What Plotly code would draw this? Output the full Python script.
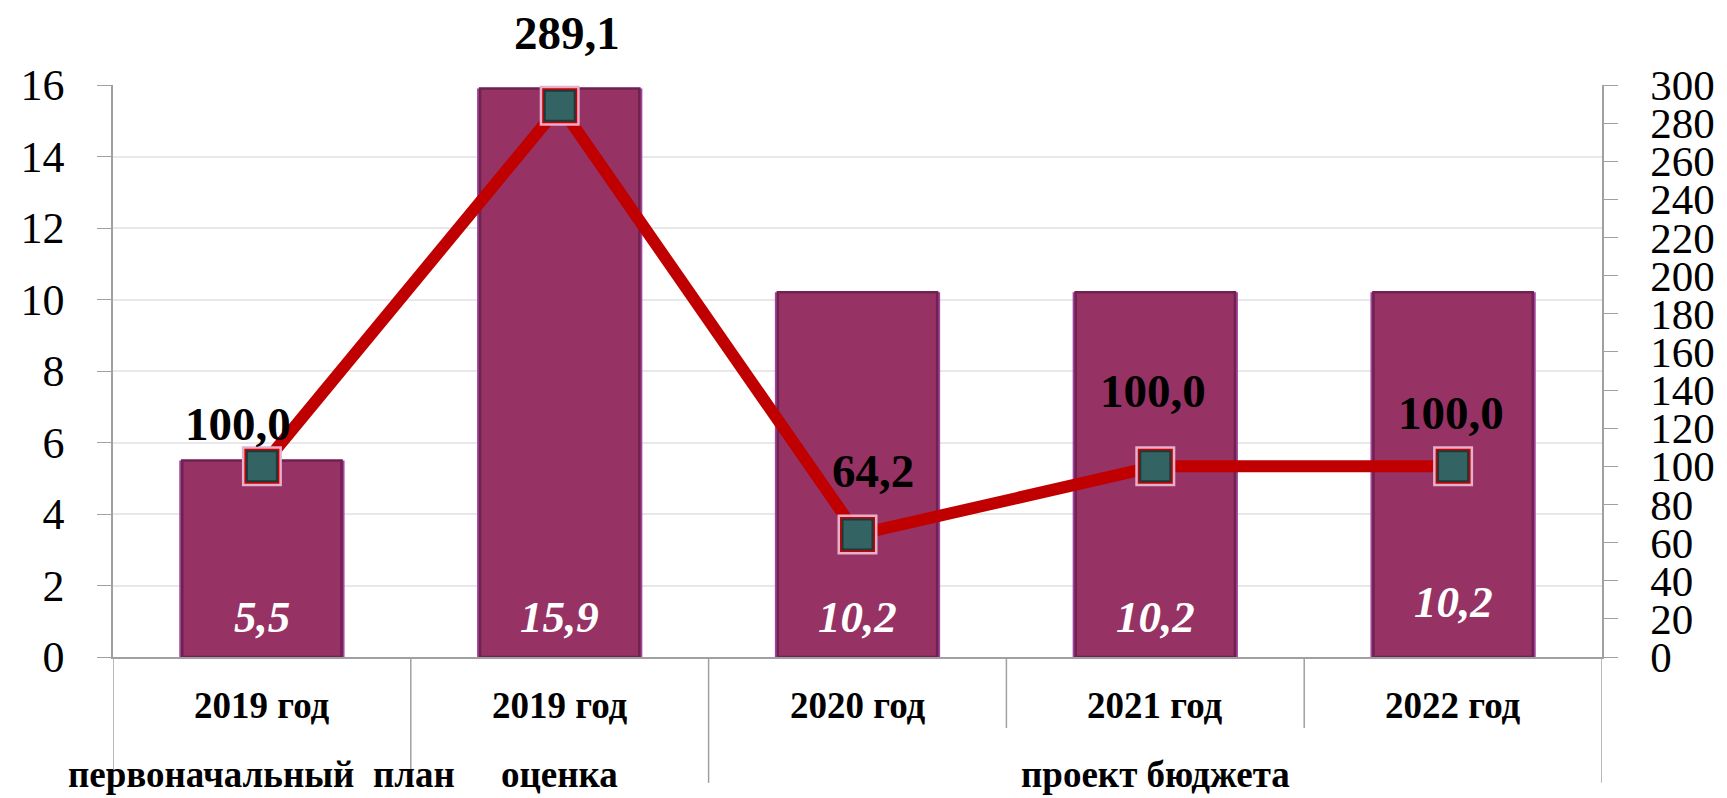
import plotly.graph_objects as go

categories = ["2019 год", "2019 год", "2020 год", "2021 год", "2022 год"]
bar_values = [5.5, 15.9, 10.2, 10.2, 10.2]
bar_labels = ["5,5", "15,9", "10,2", "10,2", "10,2"]
line_values = [100.0, 289.1, 64.2, 100.0, 100.0]
line_labels = ["100,0", "289,1", "64,2", "100,0", "100,0"]
groups = ["первоначальный  план", "оценка", "проект бюджета"]
group_pos = [0, 1, 3]

left_ticks = [0, 2, 4, 6, 8, 10, 12, 14, 16]
right_ticks = list(range(0, 301, 20))

x = list(range(len(categories)))
FONT = "Liberation Serif"

fig = go.Figure()
# outer light edge
fig.add_trace(go.Bar(
    x=x, y=bar_values, width=0.555,
    marker=dict(color="#a2449c", line=dict(width=0)),
    hoverinfo="skip", showlegend=False,
))
# main bar with darker inner edge
fig.add_trace(go.Bar(
    x=x, y=bar_values, width=0.535,
    marker=dict(color="#963264", line=dict(color="#6e2250", width=2.5)),
    hoverinfo="skip", showlegend=False,
))
fig.add_trace(go.Scatter(
    x=x, y=line_values, yaxis="y2", mode="lines",
    line=dict(color="#c00000", width=12), showlegend=False, hoverinfo="skip",
))
for size, col, lc, lw in [(40, "#e4b0cc", "#e4b0cc", 0), (35, "#cc0000", "#cc0000", 0), (30, "#336363", "#1f3838", 2)]:
    fig.add_trace(go.Scatter(
        x=x, y=line_values, yaxis="y2", mode="markers",
        marker=dict(symbol="square", size=size, color=col, line=dict(color=lc, width=lw)),
        showlegend=False, hoverinfo="skip",
    ))

annotations = []
# bar value labels
bar_shift = [40, 40, 40, 40, 55]
for i, t in enumerate(bar_labels):
    annotations.append(dict(x=i, y=0, xref="x", yref="y", text=f"<b><i>{t}</i></b>",
                            showarrow=False, yshift=bar_shift[i], yanchor="middle",
                            font=dict(family=FONT, size=45, color="white")))
# line labels
lx = [-24, 7, 15, -2, -2]
ly = [42, 73, 64, 75, 53]
for i, t in enumerate(line_labels):
    annotations.append(dict(x=i, y=line_values[i], xref="x", yref="y2", text=f"<b>{t}</b>",
                            showarrow=False, xshift=lx[i], yshift=ly[i], yanchor="middle",
                            font=dict(family=FONT, size=47, color="black")))
# category labels
for i, c in enumerate(categories):
    annotations.append(dict(x=i, y=0, xref="x", yref="y", text=f"<b>{c}</b>",
                            showarrow=False, yshift=-48, yanchor="middle",
                            font=dict(family=FONT, size=37, color="black")))
# group labels
for g, p in zip(groups, group_pos):
    annotations.append(dict(x=p, y=0, xref="x", yref="y", text=f"<b>{g}</b>",
                            showarrow=False, yshift=-117, yanchor="middle",
                            font=dict(family=FONT, size=37, color="black")))

shapes = []
for b in [-0.5, 0.5, 1.5, 4.5]:
    shapes.append(dict(type="line", xref="x", yref="paper", x0=b, x1=b, y0=0, y1=-0.22,
                       line=dict(color="#a0a0a0", width=1.5)))
for b in [2.5, 3.5]:
    shapes.append(dict(type="line", xref="x", yref="paper", x0=b, x1=b, y0=0, y1=-0.124,
                       line=dict(color="#a0a0a0", width=1.5)))

# page body has an 8px margin, so the figure is sized to fit the window
fig.update_layout(
    width=1719, height=790,
    margin=dict(l=91, r=115, t=77, b=141),
    paper_bgcolor="white", plot_bgcolor="white",
    barmode="overlay",
    xaxis=dict(range=[-0.5, 4.5], showticklabels=False, ticks="", showgrid=False,
               showline=True, linecolor="#a0a0a0", linewidth=2, zeroline=False),
    yaxis=dict(range=[0, 16], tickvals=left_ticks, ticks="outside", ticklen=14,
               tickcolor="#a0a0a0", showline=True, linecolor="#a0a0a0", linewidth=1.5,
               showgrid=True, gridcolor="#e8e8ec", gridwidth=1.5, zeroline=False,
               ticklabelstandoff=24,
               tickfont=dict(family=FONT, size=44, color="black")),
    yaxis2=dict(range=[0, 300], tickvals=right_ticks, overlaying="y", side="right",
                ticks="outside", ticklen=14, tickcolor="#a0a0a0", showline=True,
                linecolor="#a0a0a0", linewidth=1.5, showgrid=False, zeroline=False,
                ticklabelstandoff=24,
                tickfont=dict(family=FONT, size=43, color="black")),
    annotations=annotations,
    shapes=shapes,
)

fig.write_html("out.html")
